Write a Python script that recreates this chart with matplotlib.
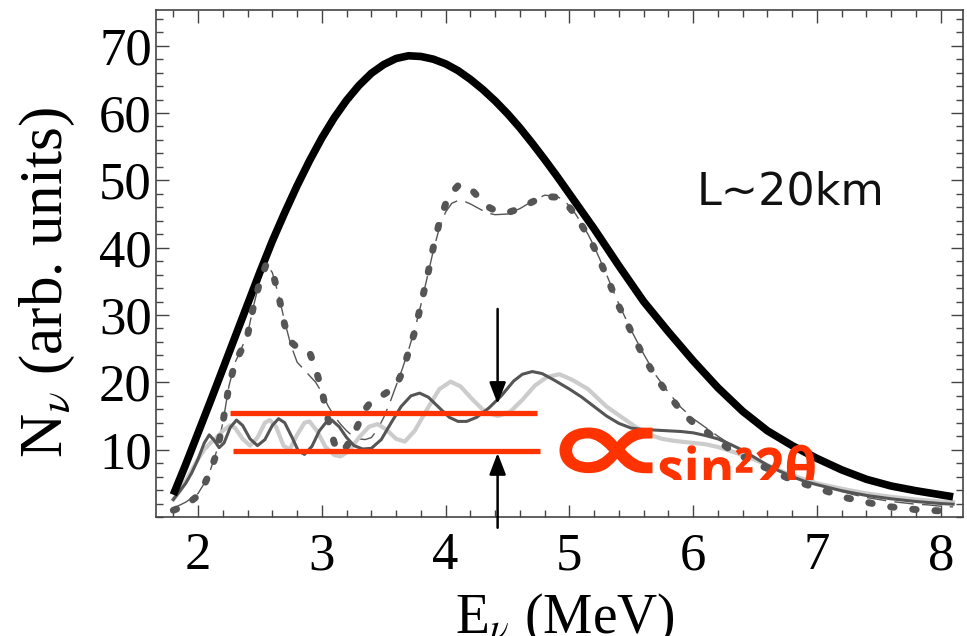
import matplotlib
matplotlib.use("Agg")
import matplotlib.pyplot as plt
import matplotlib.transforms as mtransforms
from matplotlib.patches import Rectangle, PathPatch
from matplotlib.textpath import TextPath
from matplotlib.font_manager import FontProperties
from matplotlib.ticker import MultipleLocator

# unoscillated spectrum (thick black)
e_black = [1.80, 1.90, 2.00, 2.10, 2.20, 2.30, 2.40, 2.50, 2.60, 2.70, 2.80, 2.90,
           3.00, 3.10, 3.20, 3.30, 3.40, 3.50, 3.60, 3.70, 3.80, 3.90, 4.00, 4.10,
           4.20, 4.30, 4.40, 4.50, 4.60, 4.70, 4.80, 4.90, 5.00, 5.20, 5.40, 5.60,
           5.80, 6.00, 6.20, 6.40, 6.60, 6.80, 7.00, 7.20, 7.40, 7.60, 7.80, 8.00, 8.10]
n_black = [3.3, 7.8, 12.5, 17.2, 22.0, 26.8, 31.6, 36.4, 41.0, 45.2, 49.2, 52.9,
           56.3, 59.3, 61.9, 64.1, 65.9, 67.2, 68.1, 68.5, 68.4, 68.0, 67.3, 66.3,
           65.0, 63.5, 61.8, 59.9, 57.8, 55.5, 53.1, 50.6, 48.0, 42.8, 37.3, 32.0,
           27.5, 23.2, 19.2, 15.7, 12.8, 10.6, 8.7, 7.0, 5.6, 4.6, 3.9, 3.3, 3.0]

# dotted spectrum
e_dot = [1.80, 1.90, 2.00, 2.05, 2.10, 2.15, 2.20, 2.25, 2.30, 2.35, 2.40, 2.45,
         2.50, 2.55, 2.60, 2.65, 2.70, 2.75, 2.80, 2.85, 2.90, 2.95, 3.00, 3.05,
         3.10, 3.15, 3.20, 3.25, 3.30, 3.35, 3.40, 3.45, 3.50, 3.55, 3.60, 3.65,
         3.70, 3.75, 3.80, 3.85, 3.90, 3.95, 4.00, 4.05, 4.10, 4.15, 4.20, 4.25,
         4.30, 4.35, 4.40, 4.50, 4.60, 4.70, 4.80, 4.90, 4.95, 5.00, 5.05, 5.10,
         5.15, 5.20, 5.30, 5.40, 5.50, 5.60, 5.70, 5.80, 5.90, 6.00, 6.10, 6.20,
         6.30, 6.40, 6.50, 6.60, 6.70, 6.80, 6.90, 7.00, 7.10, 7.20, 7.30, 7.40,
         7.50, 7.60, 7.70, 7.80, 7.90, 8.00, 8.10]
n_dot = [1.0, 1.7, 3.2, 4.8, 6.8, 9.5, 14.0, 19.5, 23.0, 24.8, 27.0, 31.5,
         35.0, 37.5, 36.5, 33.0, 28.5, 26.0, 25.2, 25.0, 24.5, 22.0, 18.8, 14.5,
         11.0, 9.6, 10.5, 12.0, 14.0, 16.0, 17.2, 17.8, 18.2, 18.8, 19.5, 21.5,
         24.5, 27.5, 31.5, 35.5, 40.0, 43.8, 46.5, 48.2, 49.2, 49.4, 48.8, 47.8,
         46.8, 46.0, 45.5, 45.2, 45.8, 46.8, 47.6, 47.5, 47.0, 46.0, 44.8, 43.3,
         41.8, 40.0, 35.8, 31.3, 27.5, 23.8, 20.7, 18.2, 15.8, 14.0, 12.8, 11.3,
         10.0, 9.0, 8.0, 7.2, 6.3, 5.5, 4.9, 4.3, 3.7, 3.0, 2.6, 2.2,
         1.8, 1.5, 1.3, 1.1, 1.0, 0.9, 0.8]

# thin long-dashed spectrum
e_dash = [1.80, 1.90, 2.00, 2.05, 2.10, 2.15, 2.20, 2.25, 2.30, 2.35, 2.40, 2.45,
          2.50, 2.55, 2.60, 2.65, 2.70, 2.75, 2.80, 2.85, 2.90, 2.95, 3.00, 3.05,
          3.10, 3.15, 3.20, 3.25, 3.30, 3.35, 3.40, 3.45, 3.50, 3.55, 3.60, 3.65,
          3.70, 3.75, 3.80, 3.85, 3.90, 3.95, 4.00, 4.05, 4.10, 4.15, 4.20, 4.25,
          4.30, 4.35, 4.40, 4.50, 4.60, 4.70, 4.80, 4.90, 4.95, 5.00, 5.05, 5.10,
          5.15, 5.20, 5.30, 5.40, 5.50, 5.60, 5.70, 5.80, 5.90, 6.00, 6.10, 6.20,
          6.30, 6.40, 6.50, 6.60, 6.70, 6.80, 6.90, 7.00, 7.10, 7.20, 7.30, 7.40,
          7.50, 7.60, 7.70, 7.80, 7.90, 8.00, 8.10]
n_dash = [1.3, 2.2, 3.5, 5.0, 7.0, 9.8, 14.0, 19.5, 23.0, 25.0, 27.2, 31.5,
          35.2, 37.6, 36.3, 33.0, 29.0, 25.5, 23.0, 22.0, 21.0, 20.0, 18.5, 16.5,
          15.0, 13.8, 12.8, 12.0, 11.6, 11.5, 11.8, 13.0, 14.8, 17.0, 19.5, 22.0,
          24.8, 27.8, 31.5, 35.5, 39.5, 43.0, 45.3, 46.6, 47.0, 46.9, 46.5, 46.0,
          45.5, 45.1, 44.9, 45.0, 45.8, 46.9, 47.8, 47.6, 47.1, 46.2, 45.0, 43.5,
          42.0, 40.2, 36.0, 31.6, 27.7, 24.2, 21.0, 18.5, 16.3, 14.6, 13.3, 12.0,
          10.8, 9.7, 8.7, 7.8, 6.9, 6.1, 5.4, 4.8, 4.3, 3.8, 3.3, 2.9,
          2.6, 2.3, 2.1, 1.9, 1.8, 1.6, 1.5]

# dark gray oscillating spectrum
e_dark = [1.80, 1.85, 1.90, 1.95, 2.00, 2.05, 2.09, 2.13, 2.17, 2.21, 2.26, 2.31,
          2.36, 2.42, 2.48, 2.54, 2.60, 2.65, 2.70, 2.76, 2.81, 2.86, 2.92, 2.98,
          3.04, 3.08, 3.14, 3.20, 3.26, 3.33, 3.40, 3.48, 3.56, 3.64, 3.72, 3.79,
          3.86, 3.95, 4.03, 4.10, 4.17, 4.25, 4.35, 4.45, 4.55, 4.62, 4.70, 4.78,
          4.88, 5.00, 5.10, 5.20, 5.30, 5.40, 5.50, 5.60, 5.70, 5.80, 5.90, 6.00,
          6.10, 6.20, 6.30, 6.40, 6.50, 6.60, 6.70, 6.80, 6.90, 7.00, 7.20, 7.40,
          7.60, 7.80, 8.00, 8.10]
n_dark = [2.6, 3.8, 5.0, 6.6, 8.6, 11.0, 12.2, 11.4, 10.3, 11.0, 13.3, 14.4,
          13.6, 11.6, 10.6, 11.5, 13.6, 14.6, 14.0, 11.8, 9.8, 9.3, 10.5, 12.8,
          14.2, 14.4, 13.4, 11.8, 10.6, 10.1, 10.2, 11.5, 14.0, 16.4, 18.0, 18.4,
          17.8, 16.2, 14.8, 14.2, 14.2, 14.8, 16.2, 18.0, 20.2, 21.2, 21.6, 21.3,
          20.3, 19.0, 17.8, 16.4, 15.0, 13.9, 13.2, 13.0, 12.9, 12.8, 12.7, 12.5,
          12.1, 11.6, 10.8, 9.9, 8.8, 7.7, 6.8, 6.0, 5.3, 4.8, 3.9, 3.2,
          2.7, 2.3, 2.0, 1.9]

# light gray oscillating spectrum
e_light = [1.80, 1.85, 1.90, 1.95, 2.00, 2.05, 2.10, 2.15, 2.20, 2.26, 2.30, 2.36,
           2.42, 2.48, 2.54, 2.58, 2.63, 2.69, 2.74, 2.80, 2.86, 2.90, 2.96, 3.03,
           3.10, 3.15, 3.22, 3.30, 3.38, 3.45, 3.52, 3.60, 3.67, 3.75, 3.85, 3.95,
           4.04, 4.12, 4.22, 4.32, 4.42, 4.52, 4.62, 4.72, 4.82, 4.92, 5.02, 5.15,
           5.30, 5.44, 5.55, 5.65, 5.75, 5.85, 6.00, 6.10, 6.20, 6.30, 6.40, 6.50,
           6.60, 6.70, 6.80, 6.90, 7.00, 7.20, 7.40, 7.60, 7.80, 8.00, 8.10]
n_light = [2.6, 3.8, 5.3, 7.0, 8.6, 10.0, 11.0, 11.8, 12.8, 13.6, 13.2, 11.6,
           10.6, 11.8, 14.0, 14.4, 13.4, 10.6, 10.0, 12.2, 14.0, 14.2, 12.8, 10.4,
           9.2, 9.0, 9.8, 11.8, 13.4, 13.8, 13.0, 11.6, 11.2, 12.8, 16.0, 19.0,
           20.1, 19.4, 17.4, 15.6, 15.0, 15.6, 17.4, 19.5, 20.8, 21.2, 20.4, 19.0,
           16.4, 14.6, 13.2, 12.2, 11.6, 11.3, 11.0, 10.8, 10.4, 9.8, 9.2, 8.5,
           7.7, 6.9, 6.2, 5.6, 5.0, 4.2, 3.5, 3.0, 2.6, 2.3, 2.2]

# red band (start, end, level) and arrow
band_upper = (2.26, 4.74, 15.5)
band_lower = (2.28, 4.76, 9.75)
arrow_x = 4.42
arrow_top = (30.9, 16.8)
arrow_bottom = (-1.6, 9.5)

x_ticks = [2, 3, 4, 5, 6, 7, 8]
y_ticks = [10, 20, 30, 40, 50, 60, 70]

plt.rcParams["font.family"] = ["Liberation Serif", "DejaVu Serif"]
plt.rcParams["mathtext.fontset"] = "stix"

fig = plt.figure(figsize=(9.67, 6.36), dpi=100)
ax = fig.add_axes([156 / 967, 119 / 636, 807 / 967, 507 / 636])

ax.plot(e_dash, n_dash, color="#555555", lw=1.0, ls=(0, (14, 6)), zorder=2)
ax.plot(e_light, n_light, color="#cccccc", lw=3.0, zorder=3)
ax.plot(e_dark, n_dark, color="#555555", lw=2.2, zorder=4)
ax.plot(e_black, n_black, color="black", lw=5.5, solid_capstyle="butt", zorder=5)
ax.plot(e_dot, n_dot, color="#555555", lw=5.0, ls=(0, (0.5, 2.7)),
        dash_capstyle="round", zorder=6)

red = "#ff3300"
for x0, x1, lev in (band_upper, band_lower):
    ax.plot([x0, x1], [lev, lev], color=red, lw=3.8, solid_capstyle="butt", zorder=7)

arrow_kw = dict(arrowstyle="-|>,head_length=0.65,head_width=0.25",
                color="black", lw=1.8, mutation_scale=20, shrinkA=0, shrinkB=0)
ax.annotate("", xy=(arrow_x, arrow_top[1]), xytext=(arrow_x, arrow_top[0]),
            arrowprops=arrow_kw, zorder=8)
ax.annotate("", xy=(arrow_x, arrow_bottom[1]), xytext=(arrow_x, arrow_bottom[0]),
            arrowprops=arrow_kw, annotation_clip=False, zorder=8)

ax.text(6.03, 46.4, "L~20km", family=["DejaVu Sans"], fontsize=32,
        va="baseline", ha="left", color="#111111")


def red_word(text, family, x, y, width, stretch, on_base=True, clip=None):
    # text as a path, so it can be stretched and clipped like the original
    tp = TextPath((0, 0), text, size=100,
                  prop=FontProperties(family=family, weight="bold"))
    ext = tp.get_extents()
    s = width / ext.width
    y0 = 0 if on_base else ext.y0
    tr = (mtransforms.Affine2D().translate(-ext.x0, -y0).scale(s, s * stretch)
          + mtransforms.ScaledTranslation(x, y, ax.transData))
    p = PathPatch(tp, transform=tr, facecolor=red, edgecolor="none", zorder=9)
    ax.add_patch(p)
    if clip is not None:
        p.set_clip_path(clip)
    return p


# proportional sign: left edge 4.92 MeV, bottom at N=6.5
red_word("\u221d", "DejaVu Sans", 4.92, 6.5, 93, 0.62, on_base=False)
clip = Rectangle((5.6, 5.5), 2.6, 10, transform=ax.transData, visible=False)
ax.add_patch(clip)
red_word("sin\u00b22\u03b8", "Open Sans", 5.73, 4.1, 155, 1.1, clip=clip)

ax.set_xlim(1.66, 8.18)
ax.set_ylim(0, 75.3)
ax.set_xticks(x_ticks)
ax.set_yticks(y_ticks)
ax.xaxis.set_minor_locator(MultipleLocator(0.2))
ax.yaxis.set_minor_locator(MultipleLocator(2))
ax.tick_params(which="both", direction="in", top=True, right=True,
               color="#444444", width=1.0, labelsize=38)
ax.tick_params(axis="x", pad=11)
ax.tick_params(axis="y", pad=3)
ax.tick_params(which="major", length=9)
ax.tick_params(which="minor", length=5)
for sp in ax.spines.values():
    sp.set_color("#444444")
    sp.set_linewidth(1.2)

fig.text(565 / 967, 3 / 636, r"E$_\nu$ (MeV)", fontsize=40,
         ha="center", va="baseline")
fig.text(62 / 967, 1 - 283 / 636, r"N$_\nu$ (arb. units)", fontsize=44,
         rotation=90, rotation_mode="anchor", ha="center", va="baseline")

fig.savefig("out.png", dpi=100)
